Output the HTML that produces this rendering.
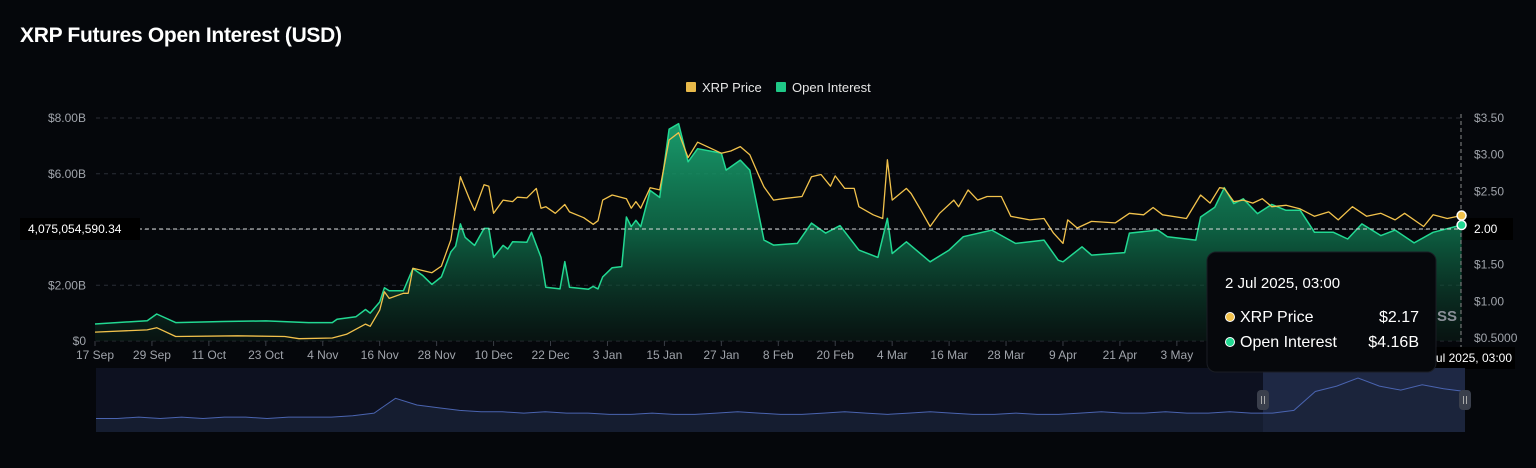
<!DOCTYPE html>
<html><head><meta charset="utf-8">
<style>
body{margin:0;background:#05070b;width:1536px;height:468px;overflow:hidden;font-family:"Liberation Sans",sans-serif;}
#title{position:absolute;left:20px;top:24px;color:#fff;font-size:21px;font-weight:bold;letter-spacing:-0.3px}
svg{position:absolute;left:0;top:0}
</style></head><body>
<div id="title">XRP Futures Open Interest (USD)</div>
<svg id="c" width="1536" height="468"></svg>
<script>
const oiDays=[0,11,13,17,27,36,45,50,51,55,57,58,60,61,62,65,67,69,71,73,75,76,77,78,80,82,83,84,86,87,88,91,92,94,95,98,99,100,104,105,106,107,109,111,112,113,114,115,117,119,121,123,125,127,132,133,136,138,141,143,148,151,154,157,161,165,167,168,171,176,180,183,189,194,200,203,204,208,210,217,218,224,226,232,233,236,238,240,242,245,248,251,254,257,261,264,267,271,274,278,282,288];
const oiValues=[0.61,0.73,0.97,0.66,0.7,0.72,0.66,0.66,0.78,0.87,1.13,1.0,1.4,1.91,1.8,1.8,2.6,2.36,2.03,2.3,3.2,3.4,4.2,3.72,3.43,4.04,4.04,3.0,3.43,3.3,3.56,3.54,3.9,3.0,1.93,1.87,2.85,1.93,1.86,1.96,1.87,2.3,2.63,2.67,4.45,4.1,4.33,4.1,5.4,5.15,7.6,7.8,6.43,6.9,6.74,6.13,6.49,6.13,3.62,3.44,3.5,4.23,3.87,4.14,3.26,3.0,4.4,3.14,3.56,2.84,3.26,3.74,3.98,3.5,3.62,2.9,2.84,3.38,3.08,3.17,3.87,3.98,3.74,3.62,4.45,4.8,5.5,4.93,5.1,4.57,4.9,4.69,4.69,3.9,3.9,3.66,4.2,3.78,3.98,3.52,3.9,4.16];
const priceDays=[0,11,13,17,30,40,43,50,53,57,58,60,61,62,65,66,67,71,73,75,77,79,80,82,83,84,86,88,89,91,93,94,95,97,99,100,103,105,106,107,109,112,113,114,115,117,119,121,123,125,127,132,134,136,138,140,141,143,145,149,151,153,155,156,158,160,161,164,166,167,168,171,172,174,176,178,181,182,184,186,188,191,193,197,200,202,204,205,207,210,215,218,221,223,225,230,233,235,237,238,240,242,244,246,248,251,254,257,260,262,265,268,271,274,276,280,282,285,288];
const priceValues=[0.58,0.61,0.64,0.52,0.53,0.52,0.49,0.5,0.55,0.69,0.66,0.88,1.13,1.04,1.11,1.11,1.45,1.39,1.48,1.84,2.7,2.38,2.24,2.59,2.57,2.2,2.38,2.36,2.42,2.41,2.54,2.27,2.29,2.2,2.32,2.22,2.14,2.05,2.1,2.38,2.45,2.4,2.27,2.36,2.27,2.55,2.52,3.2,3.3,2.96,3.17,3.02,3.05,3.11,3.0,2.7,2.56,2.38,2.4,2.43,2.7,2.73,2.57,2.71,2.54,2.54,2.29,2.18,2.13,2.93,2.38,2.54,2.47,2.25,2.02,2.2,2.38,2.29,2.52,2.38,2.43,2.43,2.16,2.11,2.13,1.93,1.79,2.11,2.0,2.09,2.07,2.2,2.18,2.28,2.18,2.13,2.45,2.34,2.55,2.54,2.36,2.38,2.34,2.4,2.29,2.31,2.26,2.16,2.22,2.11,2.29,2.16,2.2,2.11,2.2,2.02,2.18,2.13,2.17];
const xTickLabels=["17 Sep","29 Sep","11 Oct","23 Oct","4 Nov","16 Nov","28 Nov","10 Dec","22 Dec","3 Jan","15 Jan","27 Jan","8 Feb","20 Feb","4 Mar","16 Mar","28 Mar","9 Apr","21 Apr","3 May"];
const leftTicks=[0,2,6,8];
const leftTickLabels=["$0","$2.00B","$6.00B","$8.00B"];
const rightTicks=[0.5,1,1.5,2.5,3,3.5];
const rightTickLabels=["$0.5000","$1.00","$1.50","$2.50","$3.00","$3.50"];
const navValues=[1.0,1.0,1.1,1.0,1.1,1.0,1.1,1.1,1.0,1.1,1.1,1.1,1.2,1.4,2.5,2.0,1.8,1.6,1.5,1.5,1.4,1.5,1.4,1.4,1.3,1.3,1.4,1.3,1.3,1.4,1.5,1.4,1.3,1.3,1.4,1.5,1.4,1.3,1.4,1.5,1.4,1.3,1.3,1.4,1.3,1.3,1.4,1.5,1.4,1.4,1.5,1.4,1.4,1.5,1.4,1.4,1.6,3.0,3.4,4.0,3.4,3.1,3.5,3.2,3.0];

const X=d=>95+d*4.745;
const YL=v=>341-v*27.875;
const YR=p=>338-(p-0.5)*73.33;
const NS="http://www.w3.org/2000/svg";
const svg=document.getElementById('c');
function mk(t,a,parent){const e=document.createElementNS(NS,t);for(const k in a)e.setAttribute(k,a[k]);(parent||svg).appendChild(e);return e;}
const defs=mk('defs',{});
defs.innerHTML='<linearGradient id="g" x1="0" y1="0" x2="0" y2="1"><stop offset="0" stop-color="#1aa371" stop-opacity="0.95"/><stop offset="0.5" stop-color="#107a52" stop-opacity="0.75"/><stop offset="1" stop-color="#0a1f17" stop-opacity="0.5"/></linearGradient>';

// legend
let lg=mk('g',{});

let r1=mk('rect',{x:686,y:82,width:10,height:10,fill:'#e8b94a',rx:1},lg);

let t1=mk('text',{x:702,y:92,fill:'#e6e6e6','font-size':13},lg);t1.textContent='XRP Price';
let r2=mk('rect',{x:776,y:82,width:10,height:10,fill:'#1fc887',rx:1},lg);

let t2=mk('text',{x:792,y:92,fill:'#e6e6e6','font-size':13},lg);t2.textContent='Open Interest';

// grid
[0,2,4,6,8].forEach(v=>{let l=mk('line',{x1:96,x2:1461,y1:YL(v),y2:YL(v),stroke:'#2a2e36','stroke-dasharray':'4 4'});
});
leftTicks.forEach((v,i)=>{let t=mk('text',{x:86,y:YL(v)+4,fill:'#a0a4ab','font-size':12,'text-anchor':'end'});t.textContent=leftTickLabels[i];
});
rightTicks.forEach((v,i)=>{let t=mk('text',{x:1474,y:YR(v)+4,fill:'#a0a4ab','font-size':12});t.textContent=rightTickLabels[i];
});
xTickLabels.forEach((s,i)=>{let x=X(i*12);mk('line',{x1:x,x2:x,y1:341,y2:346,stroke:'#3a3e46'});
let t=mk('text',{x:x,y:359,fill:'#a0a4ab','font-size':12,'text-anchor':'middle'});t.textContent=s;
});

// area + lines
let pts=oiDays.map((d,i)=>X(d).toFixed(1)+','+YL(oiValues[i]).toFixed(1));
let area=mk('path',{d:'M'+X(oiDays[0])+','+YL(0)+' L'+pts.join(' L')+' L'+X(oiDays[oiDays.length-1])+','+YL(0)+'Z',fill:'url(#g)'});

let oil=mk('path',{d:'M'+pts.join(' L'),fill:'none',stroke:'#22d892','stroke-width':1.5,'stroke-linejoin':'round'});

let pp=priceDays.map((d,i)=>X(d).toFixed(1)+','+YR(priceValues[i]).toFixed(1));
let pl=mk('path',{d:'M'+pp.join(' L'),fill:'none',stroke:'#f2c24c','stroke-width':1.3,'stroke-linejoin':'round'});


// crosshair
mk('line',{x1:96,x2:1461,y1:229,y2:229,stroke:'#d8d8d8','stroke-dasharray':'4 3'});
mk('line',{x1:1461,x2:1461,y1:114,y2:350,stroke:'#888','stroke-dasharray':'4 3'});
let cl=mk('rect',{x:20,y:218,width:120,height:22,fill:'#000'});

let ct=mk('text',{x:28,y:233,fill:'#fff','font-size':12});ct.textContent='4,075,054,590.34';
mk('rect',{x:1463,y:218,width:50,height:22,fill:'#000'});
let ct2=mk('text',{x:1474,y:233,fill:'#fff','font-size':12});ct2.textContent='2.00';
mk('rect',{x:1380,y:347,width:135,height:22,fill:'#000'});
let ct3=mk('text',{x:1512,y:362,fill:'#fff','font-size':12,'text-anchor':'end'});ct3.textContent='2 Jul 2025, 03:00';
let last=oiDays.length-1,lp=priceDays.length-1;
let d1=mk('circle',{cx:X(priceDays[lp]),cy:YR(priceValues[lp]),r:4.5,fill:'#f2c24c',stroke:'#fff','stroke-width':1.5});

let d2=mk('circle',{cx:X(oiDays[last]),cy:YL(oiValues[last]),r:4.5,fill:'#22d892',stroke:'#fff','stroke-width':1.5});


// navigator
let nv=mk('rect',{x:96,y:368,width:1369,height:64,fill:'#0d1120'});

let sel=mk('rect',{x:1263,y:368,width:202,height:64,fill:'#1e2844'});

let nstep=1369/(navValues.length-1);
let np=navValues.map((v,i)=>(96+i*nstep).toFixed(1)+','+(432-v*13.5).toFixed(1));
mk('path',{d:'M96,432 L'+np.join(' L')+' L1465,432Z',fill:'#1a2238',opacity:0.7});
let nl=mk('path',{d:'M'+np.join(' L'),fill:'none',stroke:'#4a64b0','stroke-width':1});

[1263,1465].forEach(x=>{let h=mk('rect',{x:x-6,y:390,width:12,height:20,rx:4,fill:'#3a3f4c'});

mk('line',{x1:x-1.5,x2:x-1.5,y1:396,y2:404,stroke:'#aaa'});mk('line',{x1:x+1.5,x2:x+1.5,y1:396,y2:404,stroke:'#aaa'});});

// tooltip
let tg=mk('g',{});
mk('rect',{x:1207,y:252,width:229,height:120,rx:9,fill:'#06080c',stroke:'#1a1d24'},tg);
let tt=mk('text',{x:1225,y:288,fill:'#fff','font-size':15},tg);tt.textContent='2 Jul 2025, 03:00';
mk('circle',{cx:1230,cy:317,r:4.5,fill:'#f2c24c',stroke:'#fff','stroke-width':1},tg);
let a=mk('text',{x:1240,y:322,fill:'#fff','font-size':16},tg);a.textContent='XRP Price';
let b=mk('text',{x:1419,y:322,fill:'#fff','font-size':16,'text-anchor':'end'},tg);b.textContent='$2.17';
mk('circle',{cx:1230,cy:342,r:4.5,fill:'#22d892',stroke:'#fff','stroke-width':1},tg);
let c=mk('text',{x:1240,y:347,fill:'#fff','font-size':16},tg);c.textContent='Open Interest';
let d=mk('text',{x:1419,y:347,fill:'#fff','font-size':16,'text-anchor':'end'},tg);d.textContent='$4.16B';
let ss=mk('text',{x:1437,y:321,fill:'#8a8f98','font-size':15,'font-weight':'bold'});ss.textContent='SS';
</script>
</body></html>
